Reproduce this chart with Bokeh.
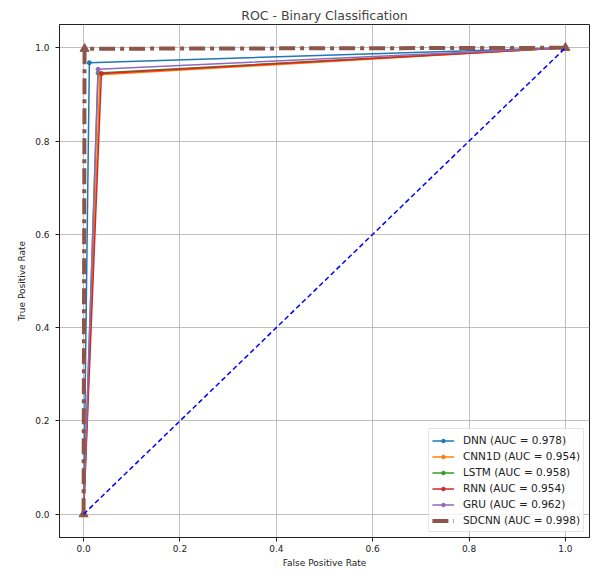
from bokeh.plotting import figure
from bokeh.models import FixedTicker, PrintfTickFormatter, Range1d, Legend, LegendItem
from bokeh.embed import file_html
from bokeh.resources import INLINE

models = ["DNN", "CNN1D", "LSTM", "RNN", "GRU", "SDCNN"]
aucs = [0.978, 0.954, 0.958, 0.954, 0.962, 0.998]
fpr = [
    [0.0, 0.012, 1.0],
    [0.0, 0.034, 1.0],
    [0.0, 0.030, 1.0],
    [0.0, 0.037, 1.0],
    [0.0, 0.030, 1.0],
    [0.0, 0.002, 1.0],
]
tpr = [
    [0.0, 0.968, 1.0],
    [0.0, 0.942, 1.0],
    [0.0, 0.946, 1.0],
    [0.0, 0.945, 1.0],
    [0.0, 0.954, 1.0],
    [0.0, 0.998, 1.0],
]
colors = ["#1f77b4", "#ff7f0e", "#2ca02c", "#d62728", "#9467bd", "#8c564b"]
ticks = [0.0, 0.2, 0.4, 0.6, 0.8, 1.0]
diag = [0.0, 1.0]

FONT = "DejaVu Sans"

p = figure(width=593, height=572, output_backend="svg", toolbar_location=None,
           x_range=Range1d(-0.05, 1.05), y_range=Range1d(-0.05, 1.05),
           min_border_left=59, min_border_right=4, min_border_bottom=35, min_border_top=24,
           title="ROC - Binary Classification")
p.title.align = "center"
p.title.text_font = FONT
p.title.text_font_style = "normal"
p.title.text_font_size = "12.5px"
p.title.standoff = 4

p.outline_line_color = "#222222"
p.outline_line_width = 1
for ax in (p.xaxis, p.yaxis):
    ax.ticker = FixedTicker(ticks=ticks)
    ax.formatter = PrintfTickFormatter(format="%.1f")
    ax.major_label_text_font = FONT
    ax.major_label_text_font_size = "9px"
    ax.major_label_text_color = "#222222"
    ax.axis_label_text_font = FONT
    ax.axis_label_text_font_size = "9px"
    ax.axis_label_text_font_style = "normal"
    ax.axis_label_text_color = "#222222"
    ax.minor_tick_line_color = None
    ax.major_tick_in = 0
    ax.major_tick_out = 4
    ax.axis_line_color = "#222222"
    ax.major_tick_line_color = "#222222"
p.xaxis.major_label_standoff = 3
p.xaxis.axis_label_standoff = 3
p.yaxis.major_label_standoff = 6
p.yaxis.axis_label_standoff = 5
p.xaxis.axis_label = "False Positive Rate"
p.yaxis.axis_label = "True Positive Rate"
p.grid.grid_line_color = "#b0b0b0"
p.grid.grid_line_width = 0.8

items = []
for i, m in enumerate(models):
    label = f"{m} (AUC = {aucs[i]:.3f})"
    if m == "SDCNN":
        ln = p.line(fpr[i], tpr[i], line_color=colors[i], line_width=4, line_dash="16 5 4 5")
        sc = p.scatter(fpr[i], tpr[i], marker="triangle", size=9, color=colors[i])
    else:
        ln = p.line(fpr[i], tpr[i], line_color=colors[i], line_width=1.5)
        sc = p.scatter(fpr[i], tpr[i], marker="circle", size=4, color=colors[i])
    items.append(LegendItem(label=label, renderers=[ln, sc]))

p.line(diag, diag, line_color="blue", line_width=1.5, line_dash="5 3")

legend = Legend(items=items, location="bottom_right")
legend.label_text_font = FONT
legend.label_text_font_size = "10.5px"
legend.label_text_color = "#222222"
legend.spacing = 0
legend.glyph_height = 9
legend.label_height = 16
legend.glyph_width = 22
legend.label_standoff = 9
legend.padding = 3
legend.margin = 5
legend.border_line_color = "#cccccc"
legend.background_fill_alpha = 0.8
p.add_layout(legend)

open("out.html", "w").write(file_html(p, INLINE))
